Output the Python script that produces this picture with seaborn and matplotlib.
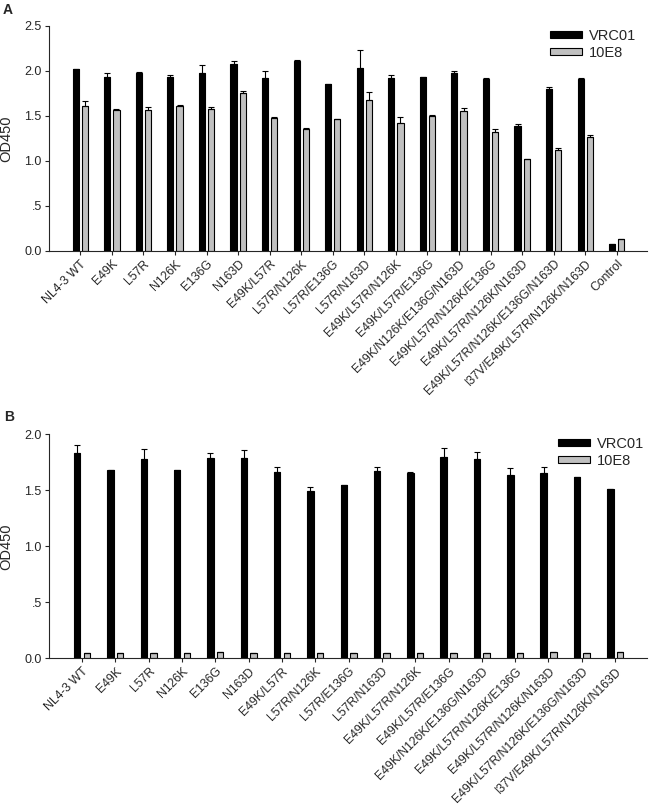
import pandas as pd
import matplotlib
matplotlib.use('Agg')
import matplotlib.pyplot as plt
import seaborn as sns

labels_a = ['NL4-3 WT', 'E49K', 'L57R', 'N126K', 'E136G', 'N163D', 'E49K/L57R',
            'L57R/N126K', 'L57R/E136G', 'L57R/N163D', 'E49K/L57R/N126K',
            'E49K/L57R/E136G', 'E49K/N126K/E136G/N163D', 'E49K/L57R/N126K/E136G',
            'E49K/L57R/N126K/N163D', 'E49K/L57R/N126K/E136G/N163D',
            'I37V/E49K/L57R/N126K/N163D', 'Control']
vrc01_a = [2.02, 1.93, 1.98, 1.93, 1.98, 2.07, 1.92, 2.11, 1.85, 2.03, 1.92, 1.93,
           1.97, 1.91, 1.385, 1.80, 1.91, 0.077]
vrc01_a_err = [0.0, 0.04, 0.005, 0.02, 0.08, 0.04, 0.08, 0.015, 0.005, 0.20, 0.035,
               0.005, 0.03, 0.005, 0.025, 0.025, 0.005, 0.0]
e8_a = [1.61, 1.57, 1.56, 1.61, 1.58, 1.75, 1.48, 1.355, 1.465, 1.68, 1.42, 1.495,
        1.55, 1.32, 1.017, 1.12, 1.27, 0.13]
e8_a_err = [0.06, 0.005, 0.04, 0.005, 0.02, 0.02, 0.005, 0.005, 0.005, 0.08, 0.07,
            0.01, 0.035, 0.035, 0.0, 0.02, 0.02, 0.0]

labels_b = labels_a[:-1]
vrc01_b = [1.836, 1.68, 1.78, 1.68, 1.79, 1.79, 1.66, 1.49, 1.55, 1.67, 1.655, 1.80,
           1.78, 1.64, 1.65, 1.615, 1.51]
vrc01_b_err = [0.065, 0.0, 0.09, 0.0, 0.04, 0.07, 0.045, 0.04, 0.0, 0.035, 0.005,
               0.08, 0.065, 0.06, 0.06, 0.0, 0.0]
e8_b = [0.05, 0.05, 0.05, 0.05, 0.055, 0.05, 0.05, 0.05, 0.05, 0.05, 0.05, 0.05,
        0.05, 0.05, 0.06, 0.05, 0.055]
e8_b_err = [0.0] * len(e8_b)

sns.set_style('ticks')
plt.rcParams['font.family'] = ['Liberation Sans', 'DejaVu Sans']

colors = {'VRC01': 'black', '10E8': '#c0c0c0'}


def panel(ax, labels, vrc, vrc_err, e8, e8_err, ymax, yticks, yticklabels, leg_xy):
    df = pd.DataFrame({'mutant': labels * 2,
                       'OD450': vrc + e8,
                       'mAb': ['VRC01'] * len(labels) + ['10E8'] * len(labels)})
    sns.barplot(data=df, x='mutant', y='OD450', hue='mAb', palette=colors, ax=ax,
                width=0.58, gap=0.33, errorbar=None, edgecolor='black', linewidth=0.8)
    # only the upper half of the error bars, like in the paper figure
    for cont, err in zip(ax.containers, [vrc_err, e8_err]):
        xs = [p.get_x() + p.get_width() / 2 for p in cont]
        ys = [p.get_height() for p in cont]
        ax.errorbar(xs, ys, yerr=[[0] * len(err), err], fmt='none', ecolor='black',
                    elinewidth=0.8, capsize=2.3, capthick=0.8, zorder=5)
    ax.set_ylim(0, ymax)
    ax.set_xlim(-1.0, len(labels) - 0.05)
    ax.set_yticks(yticks)
    ax.set_yticklabels(yticklabels, fontsize=9)
    ax.set_xticks(range(len(labels)))
    ax.set_xticklabels(labels, rotation=45, ha='right', rotation_mode='anchor', fontsize=8.8)
    ax.tick_params(axis='both', length=3, width=0.8, pad=2)
    ax.set_xlabel('')
    ax.set_ylabel('OD450', fontsize=10.5, labelpad=8)
    sns.despine(ax=ax)
    h, l = ax.get_legend_handles_labels()
    ax.legend(h, l, loc='upper left', bbox_to_anchor=leg_xy,
              bbox_transform=ax.figure.transFigure, frameon=False, fontsize=10.5,
              handlelength=2.2, handleheight=0.38, handletextpad=0.5,
              labelspacing=0.2, borderpad=0, borderaxespad=0)


fig = plt.figure(figsize=(6.5, 8.06), dpi=100)
ax1 = fig.add_axes([0.075, 0.6886, 0.92, 0.2795])
ax2 = fig.add_axes([0.075, 0.1832, 0.92, 0.278])

panel(ax1, labels_a, vrc01_a, vrc01_a_err, e8_a, e8_a_err, 2.5,
      [0, 0.5, 1.0, 1.5, 2.0, 2.5], ['0.0', '.5', '1.0', '1.5', '2.0', '2.5'],
      (550 / 650, 1 - 29 / 806))
panel(ax2, labels_b, vrc01_b, vrc01_b_err, e8_b, e8_b_err, 2.0,
      [0, 0.5, 1.0, 1.5, 2.0], ['0.0', '.5', '1.0', '1.5', '2.0'],
      (558 / 650, 1 - 437 / 806))

fig.text(3 / 650, 1 - 3 / 806, 'A', fontsize=10, fontweight='bold', va='top')
fig.text(4 / 650, 1 - 410 / 806, 'B', fontsize=10, fontweight='bold', va='top')

fig.savefig('out.png', dpi=100)
